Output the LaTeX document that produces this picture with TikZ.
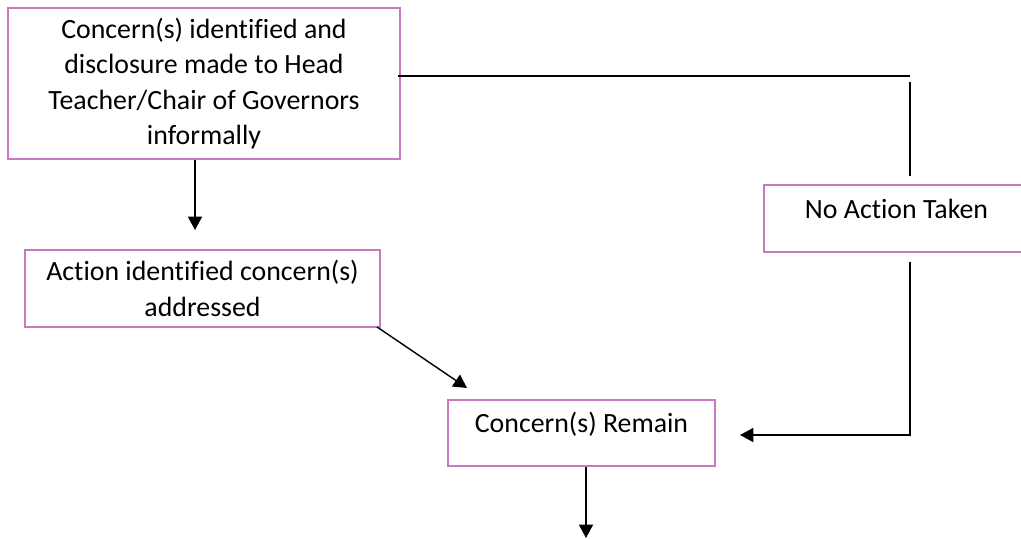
\documentclass[tikz,border=0pt]{standalone}
\usepackage{fontspec}
\setmainfont[Ligatures=NoCommon]{Carlito}
\usetikzlibrary{arrows.meta}
\definecolor{boxpink}{RGB}{200,120,190}
\tikzset{
  flowbox/.style={draw=boxpink, line width=1.2pt, align=center, inner sep=0pt,
    font=\fontsize{19.8}{25.2}\selectfont},
  flowline/.style={line width=1pt},
  flowarrow/.style={flowline, -{Triangle[length=9.5pt,width=10pt]}}
}
\begin{document}
\begin{tikzpicture}[x=0.025cm,y=-0.025cm]
  \useasboundingbox (0,0) rectangle (1021,539);

  % Boxes
  \node[flowbox, minimum width=9.8cm, minimum height=3.775cm] (concern) at (204,83.5)
    {Concern(s) identified and\\disclosure made to Head\\Teacher/Chair of Governors\\informally};
  \node[flowbox, minimum width=8.875cm, minimum height=1.925cm] (action) at (202.5,288.5)
    {Action identified concern(s)\\addressed};
  \node[flowbox, minimum width=6.675cm, minimum height=1.65cm,
    text height=0.5cm, text depth=0.55cm] (remain) at (581.5,433) {Concern(s) Remain};
  \node[flowbox, minimum width=6.625cm, minimum height=1.675cm,
    text height=0.5cm, text depth=0.525cm] (noaction) at (896.5,218.5) {No Action Taken};

  % Free ends
  \coordinate (c1) at (195,230);
  \coordinate (c2) at (467,388);
  \coordinate (c3) at (586,538);
  \coordinate (k1) at (910,76);
  \coordinate (k2) at (910,82);
  \coordinate (k3) at (910,176);
  \coordinate (k4) at (910,262);
  \coordinate (k5) at (740,435);

  % Connectors
  \draw[flowarrow] (concern.south -| c1) -- (c1);
  \draw[flowarrow] ([shift={(-4,-1)}]action.south east) -- (c2);
  \draw[flowarrow] (remain.south -| c3) -- (c3);
  \draw[flowline] ([shift={(-3,0)}]concern.east |- k1) -- (k1);
  \draw[flowline] (k2) -- (k3);
  \draw[flowarrow] (k4) |- (k5);
\end{tikzpicture}
\end{document}
